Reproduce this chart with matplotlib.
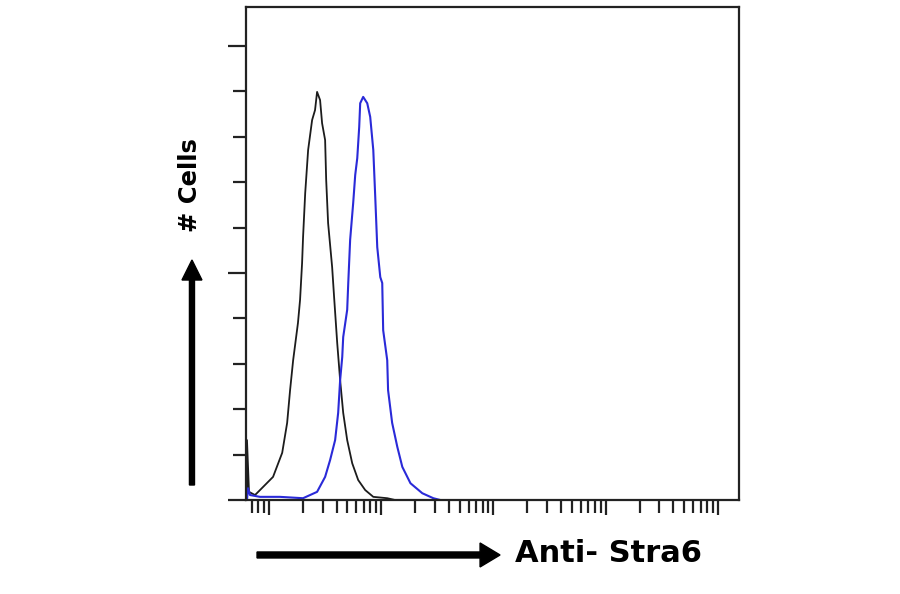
import matplotlib
matplotlib.use("Agg")
import matplotlib.pyplot as plt
from matplotlib.patches import FancyArrow
from matplotlib.ticker import LogLocator, MultipleLocator, NullFormatter

# control (black) histogram
ctrl_x = [0.636, 0.636, 0.663, 0.750, 0.831, 1.086, 1.31, 1.45, 1.54, 1.64, 1.81, 1.89,
          1.97, 2.01, 2.10, 2.23, 2.42, 2.57, 2.68, 2.85, 2.97, 3.16, 3.23, 3.36, 3.65,
          3.80, 4.05, 4.30, 4.58, 4.97, 5.51, 6.23, 7.19, 8.49, 11.3, 13.3]
ctrl_y = [0, 13.2, 1.8, 1.1, 2.2, 5.1, 10.4, 17.0, 24.2, 30.8, 39.0, 44.1,
          52.2, 57.9, 67.6, 77.1, 83.7, 85.9, 89.9, 88.1, 83.0, 79.3, 70.5, 61.0, 51.3,
          44.7, 34.6, 26.4, 19.2, 13.2, 8.1, 4.4, 2.2, 0.7, 0.4, 0]

# Anti-Stra6 (blue) histogram
stra_x = [0.636, 0.65, 0.677, 0.83, 1.25, 2.01, 2.68, 3.16, 3.50, 3.88, 4.13, 4.30,
          4.49, 4.58, 4.97, 5.08, 5.28, 5.62, 5.86, 6.11, 6.36, 6.49, 6.90, 7.50,
          7.97, 8.49, 8.84, 9.21, 9.80, 10.2, 10.4, 11.3, 11.5, 12.5, 13.9, 15.4,
          18.2, 23.2, 29.1, 33.6]
stra_y = [0, 2.6, 1.1, 0.7, 0.7, 0.4, 1.8, 5.1, 8.8, 13.2, 19.2, 26.4,
          31.5, 35.9, 41.9, 47.8, 57.3, 65.4, 71.6, 75.3, 82.2, 87.4, 88.8, 87.4,
          84.4, 77.1, 66.7, 55.7, 49.1, 47.8, 37.4, 30.8, 24.2, 17.0, 11.7, 7.3,
          3.7, 1.5, 0.4, 0]

xlabel = "Anti- Stra6"
ylabel = "# Cells"

fig = plt.figure(figsize=(9, 5.94), dpi=100)
ax = fig.add_axes([0.2733, 0.1582, 0.5478, 0.830])

ax.plot(ctrl_x, ctrl_y, color="#1c1c1c", lw=1.3)
ax.plot(stra_x, stra_y, color="#2a2ad8", lw=1.5)

ax.set_xscale("log")
ax.set_xlim(0.623, 15395)
ax.set_ylim(0, 108.6)
ax.xaxis.set_major_locator(LogLocator(base=10, numticks=10))
ax.xaxis.set_minor_locator(LogLocator(base=10, subs=range(2, 10), numticks=20))
ax.xaxis.set_major_formatter(NullFormatter())
ax.xaxis.set_minor_formatter(NullFormatter())
ax.yaxis.set_major_locator(MultipleLocator(50))
ax.yaxis.set_minor_locator(MultipleLocator(10))
ax.set_yticklabels([])

for s in ax.spines.values():
    s.set_linewidth(1.6)
    s.set_color("#222222")
ax.tick_params(axis="y", which="major", length=13, width=1.6, direction="out", color="#222222")
ax.tick_params(axis="y", which="minor", length=9.5, width=1.6, direction="out", color="#222222")
ax.tick_params(axis="x", which="major", length=11, width=1.6, direction="out", color="#222222")
ax.tick_params(axis="x", which="minor", length=9.5, width=1.6, direction="out", color="#222222")

# axis arrows
fig.patches.append(FancyArrow(0.2856, 0.0657, 0.27, 0, width=0.0101, head_width=0.0404,
                              head_length=0.0222, length_includes_head=True,
                              color="black", transform=fig.transFigure))
fig.patches.append(FancyArrow(0.2133, 0.1835, 0, 0.3788, width=0.0056, head_width=0.0222,
                              head_length=0.0337, length_includes_head=True,
                              color="black", transform=fig.transFigure))

fig.text(0.5722, 0.069, xlabel, fontsize=22, fontweight="bold", ha="left", va="center")
fig.text(0.2111, 0.6886, ylabel, fontsize=17.5, fontweight="bold", rotation=90,
         ha="center", va="center")

fig.savefig("out.png", dpi=100)
